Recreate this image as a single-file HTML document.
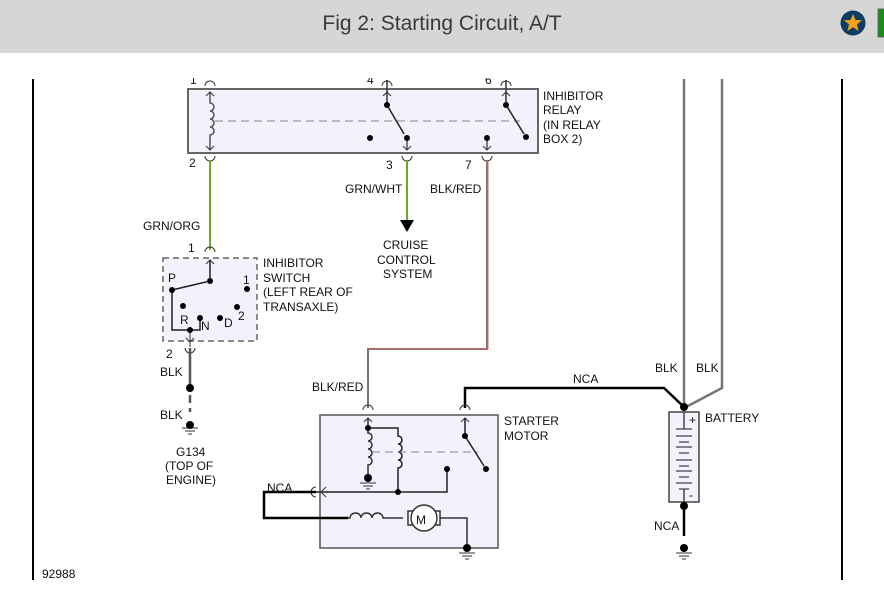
<!DOCTYPE html>
<html><head><meta charset="utf-8"><style>
body{margin:0;width:884px;height:616px;background:#fff;overflow:hidden;font-family:"Liberation Sans",sans-serif}
.hdr{position:absolute;left:0;top:0;width:884px;height:53px;background:#d6d6d6;z-index:2}
.hdr .t{position:absolute;left:0;width:884px;top:12px;text-align:center;font-size:21px;color:#3a3a3a}
svg{position:absolute;left:0;top:0}
text{font-family:"Liberation Sans",sans-serif;font-size:12px;fill:#111}
</style></head><body>
<div class="hdr"><div class="t">Fig 2: Starting Circuit, A/T</div>
<svg width="884" height="53" style="position:absolute;left:0;top:0">
<circle cx="853" cy="23" r="12.5" fill="#0e3c63"/>
<polygon points="853,14 855.6,20 862,20.3 857,24.4 858.6,31 853,27.3 847.4,31 849,24.4 844,20.3 850.4,20" fill="#f4a21b"/>
<rect x="878" y="9" width="8" height="28" fill="#1a8a1a" stroke="#666"/>
</svg></div>
<svg width="884" height="616" viewBox="0 0 884 616">
<line x1="33" y1="79" x2="33" y2="580" stroke="#000" stroke-width="2"/>
<line x1="842" y1="79" x2="842" y2="580" stroke="#000" stroke-width="2"/>
<g fill="none" stroke-width="1.5">
<rect x="188" y="89" width="350" height="64" fill="#f2f2fc" stroke="#666" stroke-width="2"/>
<line x1="215" y1="121" x2="520" y2="121" stroke="#aaa" stroke-dasharray="8,5"/>
<path d="M210,92V103 a4,4 0 0 1 0,8 a4,4 0 0 1 0,8 a4,4 0 0 1 0,8 a4,4 0 0 1 0,8 V150" stroke="#555"/>
<path d="M206,96l4,-4 4,4M206,146l4,4 4,-4" stroke="#333" stroke-width="1"/>
<path d="M205,86a5,5 0 0 1 10,0M205,156a5,5 0 0 0 10,0" stroke="#333" stroke-width="1"/>
<path d="M387,80V105" stroke="#333"/><path d="M383,96l4,-4 4,4" stroke="#333" stroke-width="1"/>
<path d="M382,86a5,5 0 0 1 10,0" stroke="#333" stroke-width="1"/>
<path d="M387,105L404,134" stroke="#222"/>
<path d="M407,138V150" stroke="#555"/><path d="M403,146l4,4 4,-4" stroke="#333" stroke-width="1"/>
<path d="M402,156a5,5 0 0 0 10,0" stroke="#333" stroke-width="1"/>
<path d="M506,80V105" stroke="#333"/><path d="M502,96l4,-4 4,4" stroke="#333" stroke-width="1"/>
<path d="M501,86a5,5 0 0 1 10,0" stroke="#333" stroke-width="1"/>
<path d="M506,105L524,134" stroke="#222"/>
<path d="M487,140V150" stroke="#555"/><path d="M483,146l4,4 4,-4" stroke="#333" stroke-width="1"/>
<path d="M482,156a5,5 0 0 0 10,0" stroke="#333" stroke-width="1"/>
<path d="M210,160V250" stroke="#6aab2a" stroke-width="2"/>
<path d="M407,160V220" stroke="#6aab2a" stroke-width="2"/>
<path d="M487,160V349H368V408" stroke="#777" stroke-width="2"/>
<path d="M488,160V349H369" stroke="#e06060" stroke-width="1"/>
<path d="M684,79V407M722,79V388L686,407" stroke="#777" stroke-width="2.5"/>
<path d="M465,408V388H664L684,407" stroke="#000" stroke-width="2.5"/>
<rect x="163" y="258" width="94" height="83" fill="#f2f2fc" stroke="#666" stroke-dasharray="6,4"/>
<path d="M205,252a5,5 0 0 1 10,0" stroke="#333" stroke-width="1"/>
<path d="M210,260V281L172,290V330H200V318" stroke="#222"/>
<path d="M206,264l4,-4 4,4" stroke="#333" stroke-width="1"/>
<path d="M190,330V347M186,338l4,4 4,-4M185,348a5,5 0 0 0 10,0" stroke="#333" stroke-width="1"/>
<path d="M190,348V388M190,395V403M190,408V412" stroke="#555" stroke-width="2.5"/>
<rect x="320" y="415" width="178" height="133" fill="#f2f2fc" stroke="#555" stroke-width="1.5"/>
<path d="M363,410a5,5 0 0 1 10,0M460,410a5,5 0 0 1 10,0" stroke="#333" stroke-width="1"/>
<path d="M368,418V433 a4,4 0 0 1 0,8 a4,4 0 0 1 0,8 a4,4 0 0 1 0,8 a4,4 0 0 1 0,8 V478" stroke="#333"/>
<path d="M364,422l4,-4 4,4M461,422l4,-4 4,4" stroke="#333" stroke-width="1"/>
<path d="M368,428H398V436 a4,4 0 0 1 0,8 a4,4 0 0 1 0,8 a4,4 0 0 1 0,8 a4,4 0 0 1 0,8 V492" stroke="#222"/>
<path d="M372,452H478" stroke="#888" stroke-dasharray="8,5" stroke-width="1"/>
<path d="M465,418V436L484,466" stroke="#222"/>
<path d="M316,492H447V469" stroke="#222"/>
<path d="M326,487l-5,5 5,5M316,487a5,5 0 0 0 0,10" stroke="#333" stroke-width="1"/>
<path d="M316,492H264V518H348" stroke="#000" stroke-width="2.5"/>
<path d="M348,518H350a5.5,5 0 0 1 11,0a5.5,5 0 0 1 11,0a5.5,5 0 0 1 11,0H403" stroke="#333"/>
<rect x="408" y="511" width="32" height="14" stroke="#333" fill="#fff"/>
<circle cx="424" cy="518" r="13" stroke="#333" fill="#fff"/>
<path d="M440,518H467V548" stroke="#333"/>
<rect x="669" y="412" width="30" height="90" fill="#f2f2fc" stroke="#444"/>
<path d="M684,412V429M684,489V502" stroke="#444"/>
<path d="M676,429h16M676,436h16M679,442h10M676,447h16M679,453h10M676,460h16M679,466h10M676,471h16M679,477h10M676,483h16M679,489h10" stroke="#444" stroke-width="1.2"/>
<path d="M684,506V536" stroke="#000" stroke-width="2.5"/>
<g stroke="#333" stroke-width="1">
<path d="M182,428h16M185,431h10M188,434h4"/>
<path d="M360,483h16M363,486h10M366,489h4"/>
<path d="M459,553h16M462,556h10M465,559h4"/>
<path d="M676,553h16M679,556h10M682,559h4"/>
</g>
</g>
<g fill="#000">
<circle cx="370" cy="138" r="3"/><circle cx="407" cy="138" r="3"/><circle cx="487" cy="138" r="3"/><circle cx="526" cy="137" r="3"/>
<circle cx="387" cy="105" r="3"/><circle cx="506" cy="105" r="3"/>
<circle cx="210" cy="281" r="3"/><circle cx="172" cy="290" r="3"/><circle cx="247" cy="289" r="3"/>
<circle cx="183" cy="306" r="3"/><circle cx="200" cy="318" r="3"/><circle cx="220" cy="318" r="3"/><circle cx="237" cy="307" r="3"/><circle cx="190" cy="330" r="3"/>
<circle cx="190" cy="388" r="4"/><circle cx="190" cy="425" r="4"/>
<circle cx="368" cy="428" r="3"/><circle cx="368" cy="478" r="4"/><circle cx="398" cy="492" r="3"/><circle cx="447" cy="469" r="3"/>
<circle cx="465" cy="436" r="3"/><circle cx="486" cy="469" r="3"/><circle cx="467" cy="548" r="4"/>
<circle cx="684" cy="407" r="4"/><circle cx="684" cy="506" r="4"/><circle cx="684" cy="548" r="4"/>
<polygon points="400,220 414,220 407,232"/>
</g>
<g font-size="12">
<text x="190" y="84">1</text><text x="367" y="84">4</text><text x="485" y="84">6</text>
<text x="189" y="167">2</text><text x="386" y="169">3</text><text x="465" y="169">7</text>
<text x="543" y="100">INHIBITOR</text><text x="543" y="114">RELAY</text><text x="543" y="129">(IN RELAY</text><text x="543" y="143">BOX 2)</text>
<text x="345" y="193">GRN/WHT</text><text x="430" y="193">BLK/RED</text>
<text x="143" y="230">GRN/ORG</text><text x="188" y="252">1</text>
<text x="383" y="249">CRUISE</text><text x="377" y="264">CONTROL</text><text x="383" y="278">SYSTEM</text>
<text x="263" y="267">INHIBITOR</text><text x="263" y="282">SWITCH</text><text x="263" y="296">(LEFT REAR OF</text><text x="263" y="311">TRANSAXLE)</text>
<text x="168" y="282">P</text><text x="243" y="284">1</text><text x="180" y="324">R</text><text x="201" y="330">N</text><text x="224" y="327">D</text><text x="238" y="320">2</text>
<text x="166" y="358">2</text><text x="160" y="376">BLK</text><text x="160" y="419">BLK</text>
<text x="176" y="456">G134</text><text x="165" y="470">(TOP OF</text><text x="166" y="484">ENGINE)</text>
<text x="312" y="391">BLK/RED</text>
<text x="504" y="425">STARTER</text><text x="504" y="440">MOTOR</text>
<text x="573" y="383">NCA</text><text x="655" y="372">BLK</text><text x="696" y="372">BLK</text>
<text x="705" y="422">BATTERY</text>
<text x="267" y="492">NCA</text><text x="654" y="530">NCA</text>
<text x="416" y="524" font-size="15" fill="#a55">M</text>
<text x="689" y="424" font-size="10">+</text><text x="689" y="499" font-size="10">-</text>
<text x="42" y="578" font-size="11">92988</text>
</g>
<rect x="0" y="53" width="884" height="25" fill="#fff"/>
</svg>
</body></html>
